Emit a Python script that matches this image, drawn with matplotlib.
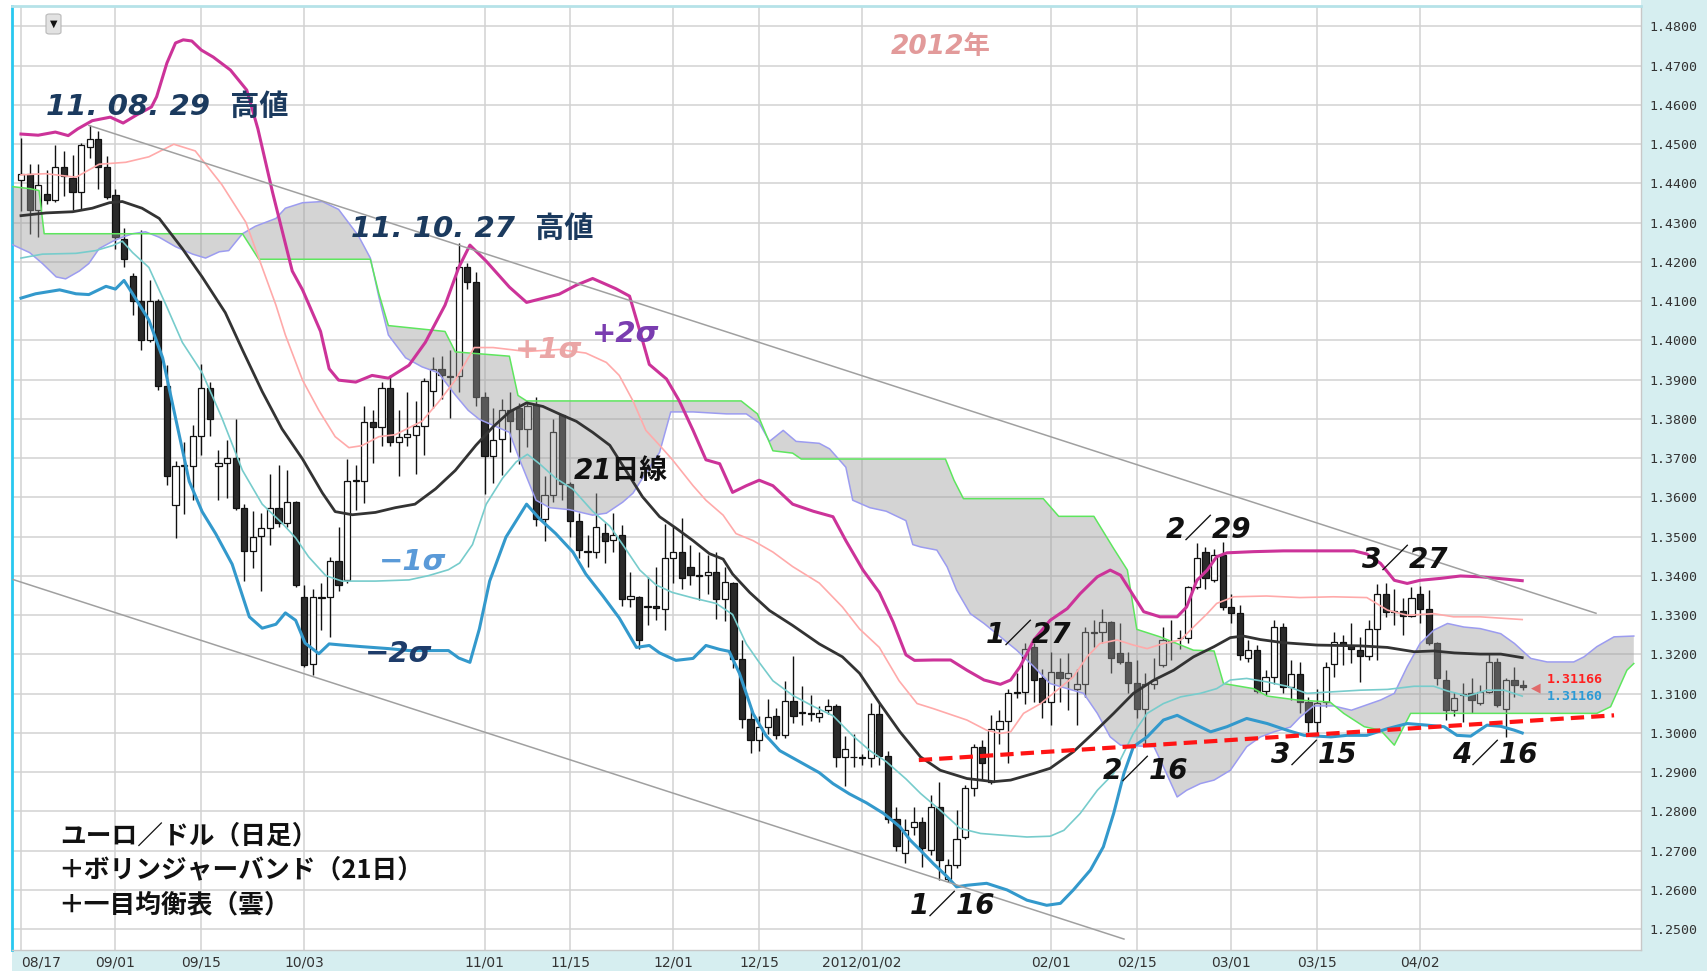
import numpy as np
import matplotlib
matplotlib.use("Agg")
import matplotlib.pyplot as plt
from matplotlib.patches import Rectangle, FancyBboxPatch

# ---------------- data (trading-day index 0 = 2011/08/17) ----------------
opens = [1.4408, 1.4423, 1.4332, 1.4373, 1.4358, 1.4442, 1.4413, 1.4378, 1.4494, 1.4513,
         1.4442, 1.4371, 1.4258, 1.4164, 1.4100, 1.4002, 1.4100, 1.3885, 1.3581, 1.3680,
         1.3681, 1.3757, 1.3878, 1.3679, 1.3687, 1.3700, 1.3574, 1.3464, 1.3501, 1.3523,
         1.3573, 1.3535, 1.3588, 1.3346, 1.3177, 1.3345, 1.3347, 1.3438, 1.3390, 1.3643,
         1.3643, 1.3792, 1.3780, 1.3880, 1.3741, 1.3754, 1.3760, 1.3782, 1.3872, 1.3928,
         1.3910, 1.3909, 1.4188, 1.4148, 1.3857, 1.3705, 1.3750, 1.3822, 1.3827, 1.3775,
         1.3836, 1.3546, 1.3607, 1.3810, 1.3635, 1.3541, 1.3463, 1.3461, 1.3510, 1.3491,
         1.3504, 1.3342, 1.3347, 1.3322, 1.3324, 1.3316, 1.3447, 1.3461, 1.3424, 1.3403,
         1.3403, 1.3410, 1.3342, 1.3382, 1.3188, 1.3035, 1.2982, 1.3016, 1.3044, 1.2995,
         1.3082, 1.3052, 1.3051, 1.3042, 1.3058, 1.3070, 1.2938, 1.2940, 1.2938, 1.2935,
         1.3049, 1.2941, 1.2782, 1.2693, 1.2761, 1.2774, 1.2701, 1.2812, 1.2629, 1.2663,
         1.2734, 1.2861, 1.2965, 1.2876, 1.3009, 1.3031, 1.3103, 1.3105, 1.3219, 1.3141,
         1.3079, 1.3156, 1.3141, 1.3111, 1.3124, 1.3256, 1.3258, 1.3283, 1.3203, 1.3181,
         1.3128, 1.3060, 1.3126, 1.3173, 1.3234, 1.3242, 1.3241, 1.3372, 1.3462, 1.3391,
         1.3453, 1.3321, 1.3306, 1.3190, 1.3211, 1.3107, 1.3143, 1.3269, 1.3118, 1.3150,
         1.3079, 1.3028, 1.3079, 1.3177, 1.3232, 1.3221, 1.3211, 1.3196, 1.3266, 1.3355,
         1.3311, 1.3311, 1.3298, 1.3355, 1.3315, 1.3228, 1.3136, 1.3058, 1.3097, 1.3101,
         1.3077, 1.3105, 1.3181, 1.3062, 1.3136, 1.3122]

highs = [1.4516, 1.4449, 1.4449, 1.4435, 1.4497, 1.4483, 1.4473, 1.4502, 1.4548, 1.4533,
         1.4470, 1.4385, 1.4287, 1.4172, 1.4282, 1.4153, 1.4105, 1.3937, 1.3693, 1.3741,
         1.3784, 1.3939, 1.3894, 1.3722, 1.3746, 1.3799, 1.3583, 1.3566, 1.3561, 1.3659,
         1.3683, 1.3669, 1.3592, 1.3378, 1.3368, 1.3382, 1.3449, 1.3524, 1.3698, 1.3684,
         1.3832, 1.3822, 1.3894, 1.3913, 1.3822, 1.3870, 1.3846, 1.3904, 1.3958, 1.3961,
         1.3976, 1.4248, 1.4197, 1.4174, 1.3869, 1.3827, 1.3852, 1.3869, 1.3841, 1.3846,
         1.3855, 1.3654, 1.3799, 1.3813, 1.3640, 1.3560, 1.3504, 1.3611, 1.3536, 1.3560,
         1.3529, 1.3410, 1.3349, 1.3398, 1.3424, 1.3532, 1.3527, 1.3548, 1.3480, 1.3461,
         1.3454, 1.3461, 1.3424, 1.3385, 1.3237, 1.3063, 1.3044, 1.3087, 1.3063, 1.3133,
         1.3197, 1.3119, 1.3096, 1.3070, 1.3087, 1.3075, 1.2993, 1.2998, 1.2946, 1.3077,
         1.3077, 1.2955, 1.2812, 1.2782, 1.2812, 1.2786, 1.2842, 1.2876, 1.2680, 1.2803,
         1.2868, 1.2973, 1.2982, 1.3045, 1.3058, 1.3113, 1.3152, 1.3228, 1.3228, 1.3164,
         1.3207, 1.3190, 1.3203, 1.3164, 1.3270, 1.3287, 1.3317, 1.3285, 1.3279, 1.3207,
         1.3186, 1.3152, 1.3190, 1.3270, 1.3287, 1.3262, 1.3375, 1.3483, 1.3474, 1.3470,
         1.3486, 1.3355, 1.3326, 1.3237, 1.3224, 1.3160, 1.3287, 1.3279, 1.3186, 1.3181,
         1.3092, 1.3113, 1.3181, 1.3258, 1.3249, 1.3279, 1.3245, 1.3287, 1.3379, 1.3383,
         1.3368, 1.3343, 1.3372, 1.3374, 1.3364, 1.3232, 1.3160, 1.3105, 1.3128, 1.3139,
         1.3122, 1.3203, 1.3190, 1.3141, 1.3169, 1.3136]

lows = [1.4330, 1.4272, 1.4263, 1.4349, 1.4354, 1.4368, 1.4332, 1.4332, 1.4466, 1.4385,
        1.4360, 1.4234, 1.4186, 1.4064, 1.3976, 1.3995, 1.3875, 1.3631, 1.3497, 1.3559,
        1.3593, 1.3708, 1.3757, 1.3593, 1.3598, 1.3569, 1.3387, 1.3421, 1.3363, 1.3480,
        1.3525, 1.3525, 1.3372, 1.3168, 1.3148, 1.3263, 1.3244, 1.3363, 1.3382, 1.3569,
        1.3585, 1.3689, 1.3732, 1.3732, 1.3655, 1.3732, 1.3660, 1.3708, 1.3827, 1.3851,
        1.3803, 1.3868, 1.4132, 1.3832, 1.3610, 1.3638, 1.3658, 1.3715, 1.3686, 1.3729,
        1.3527, 1.3490, 1.3588, 1.3593, 1.3499, 1.3447, 1.3424, 1.3447, 1.3433, 1.3461,
        1.3323, 1.3321, 1.3213, 1.3276, 1.3288, 1.3263, 1.3382, 1.3368, 1.3377, 1.3340,
        1.3354, 1.3291, 1.3285, 1.3166, 1.3013, 1.2948, 1.2955, 1.2998, 1.2984, 1.2988,
        1.3026, 1.3021, 1.3030, 1.3029, 1.3049, 1.2913, 1.2866, 1.2913, 1.2918, 1.2913,
        1.2918, 1.2770, 1.2700, 1.2668, 1.2740, 1.2659, 1.2689, 1.2625, 1.2620, 1.2655,
        1.2731, 1.2839, 1.2884, 1.2871, 1.2973, 1.2924, 1.3088, 1.3075, 1.3079, 1.3037,
        1.3020, 1.3079, 1.3058, 1.3020, 1.3092, 1.3220, 1.3228, 1.3152, 1.3176, 1.3101,
        1.3037, 1.2969, 1.3113, 1.3169, 1.3186, 1.3215, 1.3228, 1.3368, 1.3368, 1.3385,
        1.3313, 1.3279, 1.3186, 1.3181, 1.3101, 1.3098, 1.3126, 1.3101, 1.3084, 1.3050,
        1.3003, 1.2999, 1.3067, 1.3143, 1.3173, 1.3179, 1.3130, 1.3186, 1.3186, 1.3296,
        1.3275, 1.3249, 1.3296, 1.3279, 1.3224, 1.3122, 1.3033, 1.3043, 1.3028, 1.3051,
        1.3071, 1.3101, 1.3067, 1.2990, 1.3092, 1.3110]

closes = [1.4423, 1.4332, 1.4397, 1.4358, 1.4442, 1.4418, 1.4378, 1.4499, 1.4513, 1.4442,
          1.4366, 1.4263, 1.4207, 1.4100, 1.4002, 1.4100, 1.3885, 1.3655, 1.3679, 1.3682,
          1.3757, 1.3878, 1.3799, 1.3689, 1.3700, 1.3574, 1.3464, 1.3500, 1.3523, 1.3573,
          1.3535, 1.3588, 1.3377, 1.3174, 1.3346, 1.3347, 1.3438, 1.3377, 1.3643, 1.3645,
          1.3792, 1.3780, 1.3880, 1.3741, 1.3753, 1.3763, 1.3782, 1.3897, 1.3928, 1.3913,
          1.3908, 1.4186, 1.4148, 1.3857, 1.3705, 1.3747, 1.3822, 1.3794, 1.3775, 1.3832,
          1.3546, 1.3607, 1.3766, 1.3635, 1.3541, 1.3466, 1.3461, 1.3525, 1.3490, 1.3504,
          1.3342, 1.3349, 1.3238, 1.3324, 1.3319, 1.3447, 1.3461, 1.3394, 1.3403, 1.3401,
          1.3410, 1.3342, 1.3385, 1.3188, 1.3035, 1.2982, 1.3016, 1.3040, 1.2995, 1.3082,
          1.3044, 1.3054, 1.3049, 1.3051, 1.3068, 1.2938, 1.2960, 1.2938, 1.2935, 1.3049,
          1.2941, 1.2782, 1.2712, 1.2752, 1.2774, 1.2706, 1.2812, 1.2676, 1.2663, 1.2731,
          1.2859, 1.2965, 1.2924, 1.3009, 1.3031, 1.3101, 1.3105, 1.3215, 1.3136, 1.3079,
          1.3156, 1.3141, 1.3153, 1.3124, 1.3258, 1.3258, 1.3283, 1.3192, 1.3181, 1.3128,
          1.3060, 1.3126, 1.3135, 1.3237, 1.3232, 1.3241, 1.3372, 1.3447, 1.3394, 1.3453,
          1.3321, 1.3306, 1.3198, 1.3211, 1.3107, 1.3143, 1.3269, 1.3118, 1.3150, 1.3079,
          1.3028, 1.3077, 1.3169, 1.3232, 1.3224, 1.3213, 1.3196, 1.3266, 1.3355, 1.3309,
          1.3307, 1.3298, 1.3343, 1.3315, 1.3228, 1.3139, 1.3058, 1.3090, 1.3099, 1.3084,
          1.3105, 1.3181, 1.3071, 1.3136, 1.3122, 1.3117]

# Bollinger band lines (index, price)
bb_up2_x = [0, 2, 4, 5.5, 6.6, 8.3, 10.4, 11.9, 13.5, 15.2, 15.8, 17, 18, 18.9, 19.9, 21, 22.4, 24.4, 26.3,
            27.6, 29.3, 31.6, 32.8, 34.9, 35.9, 37, 39, 40.9, 42.8, 45.2, 47.1, 49.4, 51, 52.3, 54.2, 56.9,
            58.9, 62.7, 64.7, 66.6, 69.3, 70.9, 72.1, 73.2, 75.2, 76.7, 78.3, 79.8, 81.4, 82.9, 84.5, 86,
            87.6, 89.9, 92.3, 94.6, 96.1, 98.1, 100, 101.6, 103.1, 104.1, 106.3, 108.3, 110.2, 112.2, 114.1,
            115.3, 116.4, 118, 119.9, 121.9, 123.4, 125.4, 126.9, 128.1, 129.2, 130.8, 132.7, 134.7, 135.8,
            137, 138.2, 139.3, 140.5, 143.6, 147.1, 151, 155.3, 156.8, 158.4, 160, 161.5, 163, 165.4, 167.7,
            170, 172, 174.9]
bb_up2_y = [1.4526, 1.4523, 1.4531, 1.4522, 1.4539, 1.4560, 1.4569, 1.4554, 1.4575, 1.4595, 1.4621, 1.4707,
            1.4758, 1.4766, 1.4763, 1.4740, 1.4722, 1.4689, 1.4638, 1.4539, 1.4378, 1.4177, 1.4129, 1.4023,
            1.3928, 1.3899, 1.3894, 1.3911, 1.3904, 1.3937, 1.3995, 1.4090, 1.4186, 1.4243, 1.4202, 1.4136,
            1.4097, 1.4118, 1.4141, 1.4158, 1.4132, 1.4113, 1.4024, 1.3939, 1.3902, 1.3846, 1.3771, 1.3696,
            1.3686, 1.3613, 1.3630, 1.3644, 1.3630, 1.3583, 1.3565, 1.3551, 1.3490, 1.3415, 1.3358, 1.3283,
            1.3199, 1.3185, 1.3186, 1.3186, 1.3160, 1.3135, 1.3124, 1.3135, 1.3169, 1.3237, 1.3287, 1.3317,
            1.3355, 1.3398, 1.3415, 1.3402, 1.3364, 1.3309, 1.3296, 1.3296, 1.3321, 1.3389, 1.3415, 1.3449,
            1.3459, 1.3462, 1.3464, 1.3464, 1.3464, 1.3456, 1.3432, 1.3389, 1.3381, 1.3389, 1.3394, 1.3400,
            1.3398, 1.3394, 1.3388]

bb_up1_x = [0, 2.9, 6.4, 9.1, 12.2, 14.9, 17.8, 20.3, 23.4, 26.2, 28.1, 29.7, 30.8, 32.8, 34.7, 36.6, 38.2,
            39.7, 41.7, 43.6, 46.7, 48.6, 50.6, 52.8, 55, 58.9, 62.7, 65.8, 68.2, 69.7, 71.3, 72.8, 74.4,
            75.9, 78.3, 79.8, 81.8, 83.3, 85.3, 87.6, 89.9, 93, 95.7, 97.7, 100, 102.3, 104.4, 106.3, 110.2,
            112.5, 114.1, 115.3, 116.8, 118.8, 120.7, 122.6, 124.2, 125.7, 127.7, 129.6, 131.2, 133.1, 135.1,
            136.6, 138.2, 139.3, 141.3, 145.1, 149, 152.9, 156.8, 159.2, 161.5, 164.6, 166.9, 170, 174.9]
bb_up1_y = [1.4422, 1.4425, 1.4416, 1.4449, 1.4454, 1.4468, 1.4500, 1.4483, 1.4397, 1.4301, 1.4186, 1.4090,
            1.4014, 1.3899, 1.3822, 1.3755, 1.3727, 1.3732, 1.3755, 1.3760, 1.3794, 1.3842, 1.3899, 1.3982,
            1.3982, 1.3972, 1.3977, 1.3968, 1.3944, 1.3911, 1.3846, 1.3771, 1.3733, 1.3696, 1.3630, 1.3593,
            1.3555, 1.3508, 1.3490, 1.3461, 1.3424, 1.3382, 1.3321, 1.3265, 1.3218, 1.3133, 1.3075, 1.3062,
            1.3033, 1.3007, 1.2999, 1.3003, 1.3050, 1.3075, 1.3109, 1.3143, 1.3194, 1.3228, 1.3237, 1.3224,
            1.3215, 1.3228, 1.3237, 1.3270, 1.3304, 1.3330, 1.3347, 1.3349, 1.3345, 1.3347, 1.3345, 1.3313,
            1.3300, 1.3304, 1.3296, 1.3296, 1.3289]

bb_mid_x = [0, 2.9, 6, 8.3, 10.3, 11.8, 14.1, 16.1, 18.8, 21.1, 23.8, 25.8, 28.1, 30.4, 32.8, 35.1, 36.6, 38.6,
            41.3, 43.6, 45.9, 48.3, 50.6, 53, 55, 56.9, 58.9, 60.8, 62.7, 64.7, 66.6, 68.6, 70.5, 72.4, 74.4,
            76.3, 78.3, 80.2, 81.8, 82.9, 84.9, 87.2, 89.9, 93, 95.7, 97.7, 100, 102.4, 104.8, 107.1, 110.2,
            113.3, 115.3, 118, 119.9, 122.6, 124.9, 127.3, 129.6, 132, 134.3, 136.6, 139, 140.9, 142.4, 144.4,
            147.1, 151, 156, 159.2, 162.3, 164.6, 167, 170, 172.4, 174.9]
bb_mid_y = [1.4318, 1.4325, 1.4328, 1.4337, 1.4351, 1.4354, 1.4337, 1.4311, 1.4234, 1.4162, 1.4071, 1.3976,
            1.3870, 1.3775, 1.3698, 1.3612, 1.3564, 1.3556, 1.3562, 1.3574, 1.3583, 1.3622, 1.3669, 1.3733,
            1.3780, 1.3818, 1.3841, 1.3832, 1.3813, 1.3794, 1.3766, 1.3733, 1.3668, 1.3602, 1.3551, 1.3522,
            1.3490, 1.3457, 1.3443, 1.3405, 1.3358, 1.3312, 1.3274, 1.3227, 1.3194, 1.3152, 1.3077, 1.3003,
            1.2939, 1.2905, 1.2884, 1.2876, 1.2880, 1.2897, 1.2910, 1.2952, 1.2999, 1.3050, 1.3101, 1.3135,
            1.3160, 1.3194, 1.3220, 1.3243, 1.3247, 1.3238, 1.3230, 1.3224, 1.3222, 1.3218, 1.3207, 1.3209,
            1.3204, 1.3201, 1.3201, 1.3192]

bb_dn1_x = [0, 2.5, 6.4, 8.7, 10.7, 11.8, 13, 14.9, 16.9, 18.8, 21.1, 23.4, 25.8, 28.1, 30.4, 32, 33.5, 35.5,
            37.4, 41.3, 45.2, 47.5, 49.8, 51.1, 52.6, 54.2, 56.1, 57.7, 59, 60.4, 62.3, 64.3, 66.6, 68.6, 70.1,
            72.1, 74, 75.9, 78.3, 81, 82.9, 84.5, 86, 87.6, 89.9, 92.3, 94.6, 96.9, 98.9, 100.8, 103.1, 104.8,
            107.1, 109.4, 111.8, 114.1, 117.2, 119.9, 121.5, 123.4, 125.4, 127.3, 129.6, 131.2, 133.1, 135.1,
            137.4, 139.3, 140.9, 142.8, 145.2, 147.5, 149.8, 152.9, 156, 159.2, 162.3, 164.6, 166.2, 168.5,
            170.8, 172.8, 174.9]
bb_dn1_y = [1.4210, 1.4220, 1.4222, 1.4229, 1.4242, 1.4253, 1.4224, 1.4186, 1.4090, 1.3995, 1.3918, 1.3803,
            1.3669, 1.3583, 1.3535, 1.3497, 1.3449, 1.3401, 1.3387, 1.3387, 1.3390, 1.3401, 1.3416, 1.3433,
            1.3480, 1.3583, 1.3649, 1.3691, 1.3710, 1.3686, 1.3649, 1.3621, 1.3565, 1.3527, 1.3480, 1.3415,
            1.3377, 1.3358, 1.3344, 1.3330, 1.3302, 1.3227, 1.3180, 1.3133, 1.3096, 1.3068, 1.3044, 1.2993,
            1.2955, 1.2927, 1.2883, 1.2846, 1.2803, 1.2757, 1.2744, 1.2740, 1.2735, 1.2737, 1.2752, 1.2795,
            1.2854, 1.2897, 1.2999, 1.3050, 1.3075, 1.3092, 1.3101, 1.3113, 1.3135, 1.3139, 1.3130, 1.3119,
            1.3101, 1.3105, 1.3109, 1.3111, 1.3119, 1.3119, 1.3107, 1.3094, 1.3109, 1.3109, 1.3094]

bb_dn2_x = [0, 1.7, 4.5, 6.4, 7.9, 9.9, 11, 12, 13, 14.9, 16.5, 18, 19.6, 21.1, 22.7, 24.6, 26.6, 28.1, 29.7,
            30.8, 32, 33.1, 34.7, 35.9, 37.4, 39.7, 42.8, 45.2, 49.8, 51, 52.3, 53.4, 54.6, 56.5, 58.9, 60.4,
            62.3, 64.3, 65.8, 67.8, 69.7, 71.7, 73.2, 74.4, 76.3, 78.3, 79.8, 81.4, 82.5, 83.7, 85.3, 86.8,
            88.4, 90.7, 93, 94.6, 96.5, 98.5, 100.5, 102.4, 103.6, 104.8, 106.3, 107.9, 109, 110.2, 112.5,
            114.9, 117.2, 119.5, 121.1, 122.6, 124.6, 126.1, 127.3, 128.5, 129.6, 131.2, 133.1, 134.7, 136.6,
            138.6, 140.5, 142.8, 145.2, 147.5, 149.5, 152.6, 154.5, 156.8, 159.2, 161.5, 163.8, 165.8, 167.3,
            168.9, 170.8, 172.4, 174, 174.9]
bb_dn2_y = [1.4108, 1.4119, 1.4129, 1.4119, 1.4117, 1.4138, 1.4131, 1.4153, 1.4119, 1.4052, 1.3956, 1.3803,
            1.3641, 1.3564, 1.3507, 1.3430, 1.3296, 1.3267, 1.3277, 1.3306, 1.3287, 1.3229, 1.3202, 1.3227,
            1.3224, 1.3220, 1.3215, 1.3210, 1.3210, 1.3191, 1.3180, 1.3265, 1.3387, 1.3499, 1.3583, 1.3546,
            1.3508, 1.3461, 1.3405, 1.3349, 1.3293, 1.3218, 1.3223, 1.3204, 1.3185, 1.3190, 1.3223, 1.3213,
            1.3208, 1.3152, 1.3049, 1.2993, 1.2955, 1.2927, 1.2899, 1.2871, 1.2845, 1.2822, 1.2795, 1.2761,
            1.2727, 1.2701, 1.2667, 1.2634, 1.2608, 1.2612, 1.2617, 1.2600, 1.2574, 1.2561, 1.2566, 1.2600,
            1.2651, 1.2710, 1.2795, 1.2897, 1.2965, 1.2990, 1.3033, 1.3045, 1.3024, 1.3003, 1.3016, 1.3037,
            1.3024, 1.3007, 1.2994, 1.2990, 1.2994, 1.2994, 1.3011, 1.3024, 1.3020, 1.3016, 1.2994, 1.2992,
            1.3020, 1.3017, 1.3007, 1.3000]

# Ichimoku cloud spans
span_a_x = [-1, 1, 2.5, 4.1, 5.2, 6.8, 7.9, 9.1, 10.7, 11.8, 13, 14.5, 16.1, 18, 20, 21.5, 23.1, 24.2, 25.8,
            27.3, 29.7, 30.8, 32.8, 35.1, 37, 39.3, 40.7, 41.7, 42.8, 44.8, 46.7, 48.6, 50.6, 52.1, 53.4, 56.9,
            58.1, 60, 61.6, 63.9, 66.6, 68.2, 70.1, 71.3, 72.4, 74.4, 75.7, 78.3, 82.2, 84.5, 86, 87.2, 88.8,
            90.3, 93, 94.2, 96.1, 96.9, 98.9, 100.8, 103.1, 103.9, 104.8, 106.7, 107.9, 109, 110.6, 112.2,
            114.1, 116, 118, 119.9, 121.9, 123.8, 125.4, 126.9, 128.1, 132, 133.1, 134.7, 135.8, 137.4, 139,
            140.9, 142.8, 144.4, 146, 147.9, 149, 150.6, 152.9, 155, 158.4, 160, 161.5, 163, 164.6, 166.2,
            168.1, 170, 172.4, 174, 175.9, 177.8, 180.9, 182.1, 183.6, 185.6, 187.9]
span_a_y = [1.4244, 1.4224, 1.4196, 1.4162, 1.4157, 1.4177, 1.4196, 1.4234, 1.4253, 1.4263, 1.4272, 1.4277,
            1.4263, 1.4239, 1.4220, 1.4210, 1.4226, 1.4229, 1.4272, 1.4291, 1.4311, 1.4337, 1.4351, 1.4354,
            1.4334, 1.4267, 1.4210, 1.4110, 1.4014, 1.3956, 1.3933, 1.3918, 1.3861, 1.3822, 1.3799, 1.3766,
            1.3696, 1.3593, 1.3574, 1.3569, 1.3555, 1.3560, 1.3588, 1.3611, 1.3649, 1.3715, 1.3818, 1.3818,
            1.3813, 1.3813, 1.3790, 1.3743, 1.3771, 1.3743, 1.3738, 1.3724, 1.3677, 1.3593, 1.3574, 1.3565,
            1.3541, 1.3480, 1.3474, 1.3466, 1.3423, 1.3364, 1.3304, 1.3279, 1.3245, 1.3211, 1.3169, 1.3126,
            1.3113, 1.3101, 1.3050, 1.2990, 1.2969, 1.2965, 1.2914, 1.2837, 1.2854, 1.2871, 1.2880, 1.2905,
            1.2965, 1.2990, 1.3003, 1.3015, 1.3040, 1.3069, 1.3069, 1.3058, 1.3084, 1.3101, 1.3169, 1.3228,
            1.3262, 1.3279, 1.3270, 1.3266, 1.3253, 1.3228, 1.3190, 1.3181, 1.3181, 1.3194, 1.3220, 1.3245,
            1.3247]

span_b_x = [-1, 1, 2.1, 2.7, 25.8, 27.7, 40.7, 41.7, 42.8, 49.4, 50.6, 56.9, 57.9, 58.9, 83.9, 85.8, 87.6,
            89.9, 90.9, 107.7, 108.7, 109.8, 119.1, 120.9, 125, 127.3, 128.9, 130, 132.7, 136.6, 139, 140.1,
            143.6, 145.2, 148.7, 152.5, 154.1, 156.5, 158.4, 160, 161.5, 161.9, 183.6, 185.2, 187.1, 187.9]
span_b_y = [1.4392, 1.4387, 1.4382, 1.4272, 1.4272, 1.4207, 1.4207, 1.4119, 1.4038, 1.4023, 1.3971, 1.3960,
            1.3860, 1.3846, 1.3846, 1.3813, 1.3719, 1.3713, 1.3698, 1.3698, 1.3644, 1.3597, 1.3597, 1.3552,
            1.3552, 1.3470, 1.3415, 1.3264, 1.3245, 1.3211, 1.3209, 1.3126, 1.3113, 1.3094, 1.3084, 1.3079,
            1.3050, 1.3016, 1.3007, 1.2969, 1.3033, 1.3050, 1.3050, 1.3067, 1.3160, 1.3177]

# trend lines (end points)
upper_trend_x = [7.9, 183.5]
upper_trend_y = [1.4548, 1.3305]
lower_trend_x = [-0.93, 128.5]
lower_trend_y = [1.3391, 1.2475]
support_x = [104.6, 185.6]
support_y = [1.2931, 1.3045]

date_ticks = [0, 11, 21, 33, 54, 64, 76, 86, 98, 120, 130, 141, 151, 163]
date_labels = ["08/17", "09/01", "09/15", "10/03", "11/01", "11/15", "12/01", "12/15",
               "2012/01/02", "02/01", "02/15", "03/01", "03/15", "04/02"]
price_ticks = [1.25, 1.26, 1.27, 1.28, 1.29, 1.30, 1.31, 1.32, 1.33, 1.34, 1.35, 1.36,
               1.37, 1.38, 1.39, 1.40, 1.41, 1.42, 1.43, 1.44, 1.45, 1.46, 1.47, 1.48]

# ---------------- figure ----------------
W, H = 1708, 971
fig = plt.figure(figsize=(W / 100, H / 100), dpi=100)
fig.patch.set_facecolor("white")


def fx(px):
    return px / W


def fy(py):
    return 1 - py / H


strip = "#d6eef0"
fig.add_artist(Rectangle((fx(1641), 0), 1 - fx(1641), 1, transform=fig.transFigure,
                         facecolor=strip, edgecolor="none", zorder=0))
fig.add_artist(Rectangle((fx(12), 0), 1, fy(950), transform=fig.transFigure,
                         facecolor=strip, edgecolor="none", zorder=0))

ax = fig.add_axes([fx(12), fy(950), fx(1641) - fx(12), fy(6) - fy(950)])
ax.set_facecolor("white")
ax.set_xlim(-1.05, 188.74)
ax.set_ylim(1.24471, 1.48522)

ax.set_yticks(price_ticks)
ax.set_yticklabels(["%.4f" % p for p in price_ticks])
ax.yaxis.tick_right()
ax.tick_params(axis="y", length=0, pad=6, labelsize=9.5, labelcolor="#333333")
for lbl in ax.get_yticklabels():
    lbl.set_fontfamily("DejaVu Sans Mono")

ax.set_xticks(date_ticks)
ax.set_xticklabels(date_labels)
ax.tick_params(axis="x", length=0, pad=4, labelsize=10, labelcolor="#333333")
ax.get_xticklabels()[0].set_horizontalalignment("left")

ax.grid(True, color="#d2d2d2", lw=1.1, zorder=0)
ax.set_axisbelow(True)

ax.spines["left"].set_color("#28c8f0")
ax.spines["left"].set_linewidth(2.0)
ax.spines["top"].set_color("#b6e2e8")
ax.spines["top"].set_linewidth(2.0)
for s in ("right", "bottom"):
    ax.spines[s].set_color("#c8c8c8")
    ax.spines[s].set_linewidth(1.0)

# candles
o = np.array(opens)
h = np.array(highs)
l = np.array(lows)
c = np.array(closes)
xs = np.arange(len(o))
up = c >= o
ax.vlines(xs, l, h, color="#111111", lw=1.0, zorder=2)
body_bottom = np.minimum(o, c)
body_h = np.maximum(np.abs(c - o), 0.00012)
ax.bar(xs[up], body_h[up], bottom=body_bottom[up], width=0.72, color="white",
       edgecolor="#111111", lw=0.9, zorder=3)
ax.bar(xs[~up], body_h[~up], bottom=body_bottom[~up], width=0.72, color="#2a2a2a",
       edgecolor="#111111", lw=0.9, zorder=3)

# cloud (drawn over candles, semi transparent)
poly_x = list(span_a_x) + list(span_b_x[::-1])
poly_y = list(span_a_y) + list(span_b_y[::-1])
ax.fill(poly_x, poly_y, color="#9a9a9a", alpha=0.42, lw=0, zorder=4)
ax.plot(span_a_x, span_a_y, color="#9c9cf0", lw=1.1, zorder=5)
ax.plot(span_b_x, span_b_y, color="#5ee65e", lw=1.1, zorder=5)

# bollinger bands
ax.plot(bb_up2_x, bb_up2_y, color="#cc3399", lw=2.2, zorder=6, solid_joinstyle="round")
ax.plot(bb_up1_x, bb_up1_y, color="#ffaaaa", lw=1.2, zorder=6)
ax.plot(bb_mid_x, bb_mid_y, color="#333333", lw=2.0, zorder=6, solid_joinstyle="round")
ax.plot(bb_dn1_x, bb_dn1_y, color="#77cccc", lw=1.2, zorder=6)
ax.plot(bb_dn2_x, bb_dn2_y, color="#3399cc", lw=2.2, zorder=6, solid_joinstyle="round")

# trend lines
ax.plot(upper_trend_x, upper_trend_y, color="#a0a0a0", lw=1.1, zorder=7)
ax.plot(lower_trend_x, lower_trend_y, color="#a0a0a0", lw=1.1, zorder=7)
ax.plot(support_x, support_y, color="#ff1414", lw=3.0, zorder=7, dashes=(3.2, 1.7))

# ---------------- annotations ----------------
lat = ["DejaVu Sans", "Noto Sans CJK JP"]


def label(px, py, s, color, size, italic=True, family=None):
    fig.text(fx(px), fy(py), s, color=color, fontsize=size, fontweight="bold",
             fontstyle="italic" if italic else "normal",
             family=family if family else lat, ha="left", va="center", zorder=10)


label(46, 107, "11. 08. 29  高値", "#1b3a5e", 21)
label(351, 229, "11. 10. 27  高値", "#1b3a5e", 21)
label(891, 47, "2012年", "#e29a9a", 19)
label(515, 350, "+1σ", "#eaa6a6", 21)
label(592, 334, "+2σ", "#7a3db0", 21)
label(574, 471, "21日線", "#111111", 20)
label(379, 562, "−1σ", "#5a9ad8", 21)
label(365, 654, "−2σ", "#1e3c6a", 21)
label(986, 635, "1／27", "#111111", 20)
label(1166, 530, "2／29", "#111111", 20)
label(1362, 560, "3／27", "#111111", 20)
label(1103, 771, "2／16", "#111111", 20)
label(1271, 755, "3／15", "#111111", 20)
label(1452, 755, "4／16", "#111111", 20)
label(910, 906, "1／16", "#111111", 20)

jp = ["Noto Sans CJK JP", "DejaVu Sans"]
label(60, 836, "ユーロ／ドル（日足）", "#111111", 18.5, italic=False, family=jp)
label(58, 870, "＋ボリンジャーバンド（21日）", "#111111", 18.5, italic=False, family=jp)
label(58, 905, "＋一目均衡表（雲）", "#111111", 18.5, italic=False, family=jp)

fig.text(fx(1547), fy(679), "1.31166", color="#ff2020", fontsize=9.5, fontweight="bold",
         family="DejaVu Sans Mono", ha="left", va="center", zorder=10)
fig.text(fx(1547), fy(696), "1.31160", color="#2b9ad6", fontsize=9.5, fontweight="bold",
         family="DejaVu Sans Mono", ha="left", va="center", zorder=10)
fig.text(fx(1536), fy(688), "◀", color="#e06a6a", fontsize=9, family="DejaVu Sans",
         ha="center", va="center", zorder=10)

# drop-down button
fig.add_artist(FancyBboxPatch((fx(46), fy(34)), fx(15), 20 / H,
                              boxstyle="round,pad=0.0,rounding_size=0.002",
                              transform=fig.transFigure, facecolor="#e2e2e2",
                              edgecolor="#b8b8b8", lw=0.8, zorder=11))
fig.text(fx(53.5), fy(24), "▼", fontsize=7, color="#111111", family="DejaVu Sans",
         ha="center", va="center", zorder=12)

fig.savefig("out.png", dpi=100, facecolor=fig.get_facecolor())
